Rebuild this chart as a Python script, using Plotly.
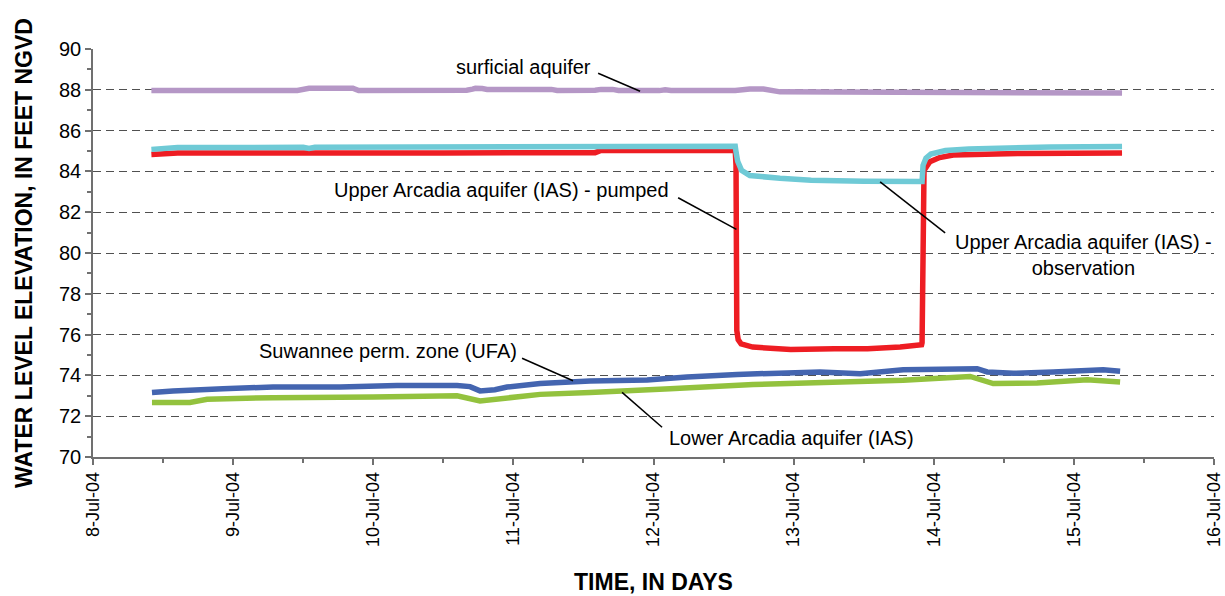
import plotly.graph_objects as go

# ---------------- data ----------------
surf_t = ["2004-07-08 10:00", "2004-07-09 11:00", "2004-07-09 13:00", "2004-07-09 17:00",
          "2004-07-09 20:30", "2004-07-09 21:30", "2004-07-10 01:30", "2004-07-10 02:30",
          "2004-07-10 13:00", "2004-07-10 14:00", "2004-07-10 16:00", "2004-07-10 17:00",
          "2004-07-10 17:30", "2004-07-10 18:40", "2004-07-10 19:30", "2004-07-11 06:30",
          "2004-07-11 07:30", "2004-07-11 14:00", "2004-07-11 15:00", "2004-07-11 17:00",
          "2004-07-11 18:00", "2004-07-12 01:00", "2004-07-12 02:00", "2004-07-12 03:00",
          "2004-07-12 14:00", "2004-07-12 16:30", "2004-07-12 18:50", "2004-07-12 21:40",
          "2004-07-13 06:00", "2004-07-13 14:00", "2004-07-13 20:00", "2004-07-14 02:00",
          "2004-07-14 10:00", "2004-07-14 18:00", "2004-07-15 00:00", "2004-07-15 04:00",
          "2004-07-15 08:15"]
surf_v = [87.97, 87.97, 88.07, 88.10, 88.08, 87.96, 87.96, 88.02, 88.02, 87.97, 87.98, 88.03,
          88.07, 88.06, 88.02, 88.02, 87.97, 87.98, 88.02, 88.02, 87.97, 87.96, 88.00, 87.97,
          87.97, 88.04, 88.04, 87.90, 87.89, 87.86, 87.88, 87.87, 87.88, 87.87, 87.86, 87.88,
          87.84]

obs_t = ["2004-07-08 10:00", "2004-07-08 13:00", "2004-07-08 14:30", "2004-07-09 12:00",
         "2004-07-09 13:00", "2004-07-09 14:00", "2004-07-10 12:00", "2004-07-11 12:00",
         "2004-07-11 14:30", "2004-07-12 00:00", "2004-07-12 14:00", "2004-07-12 14:10",
         "2004-07-12 14:25", "2004-07-12 15:05", "2004-07-12 16:30", "2004-07-12 21:40",
         "2004-07-13 03:00", "2004-07-13 12:00", "2004-07-13 18:00", "2004-07-13 22:00",
         "2004-07-13 22:10", "2004-07-13 22:40", "2004-07-13 23:30", "2004-07-14 02:00",
         "2004-07-14 06:00", "2004-07-14 12:00", "2004-07-14 20:00", "2004-07-15 08:15"]
obs_v = [85.08, 85.10, 85.17, 85.18, 85.12, 85.18, 85.18, 85.19, 85.24, 85.22, 85.23, 84.90,
         84.50, 84.05, 83.80, 83.66, 83.57, 83.52, 83.50, 83.50, 84.30, 84.65, 84.85, 85.02,
         85.10, 85.17, 85.20, 85.22]

pump_t = ["2004-07-08 10:00", "2004-07-08 14:00", "2004-07-08 14:30", "2004-07-10 12:00",
          "2004-07-11 14:00", "2004-07-11 15:00", "2004-07-12 14:00", "2004-07-12 14:08",
          "2004-07-12 14:12", "2004-07-12 14:16", "2004-07-12 14:30", "2004-07-12 15:00",
          "2004-07-12 17:00", "2004-07-12 23:30", "2004-07-13 07:00", "2004-07-13 12:40",
          "2004-07-13 18:15", "2004-07-13 21:20", "2004-07-13 21:55", "2004-07-13 22:00",
          "2004-07-13 22:05", "2004-07-13 22:20", "2004-07-13 23:20", "2004-07-14 01:00",
          "2004-07-14 03:20", "2004-07-14 15:00", "2004-07-15 08:15"]
pump_v = [84.83, 84.85, 84.90, 84.90, 84.92, 85.03, 85.04, 84.30, 79.50, 76.20, 75.75, 75.55,
          75.39, 75.27, 75.31, 75.31, 75.39, 75.47, 75.50, 75.60, 80.00, 84.05, 84.47, 84.68,
          84.80, 84.88, 84.90]

ufa_t = ["2004-07-08 10:06", "2004-07-08 13:42", "2004-07-08 22:16", "2004-07-09 06:50",
         "2004-07-09 18:19", "2004-07-10 04:04", "2004-07-10 14:21", "2004-07-10 16:35",
         "2004-07-10 18:17", "2004-07-10 20:50", "2004-07-10 22:55", "2004-07-11 04:35",
         "2004-07-11 13:08", "2004-07-11 22:54", "2004-07-12 05:45", "2004-07-12 14:19",
         "2004-07-13 04:32", "2004-07-13 11:24", "2004-07-13 18:46", "2004-07-14 03:19",
         "2004-07-14 07:26", "2004-07-14 09:09", "2004-07-14 13:36", "2004-07-14 20:27",
         "2004-07-15 05:01", "2004-07-15 07:55"]
ufa_v = [73.16, 73.24, 73.35, 73.43, 73.43, 73.51, 73.51, 73.45, 73.24, 73.30, 73.43, 73.60,
         73.72, 73.78, 73.92, 74.05, 74.17, 74.08, 74.28, 74.33, 74.33, 74.17, 74.10, 74.17,
         74.28, 74.20]

lower_t = ["2004-07-08 10:06", "2004-07-08 16:36", "2004-07-08 19:32", "2004-07-09 06:50",
           "2004-07-09 23:58", "2004-07-10 14:21", "2004-07-10 18:17", "2004-07-10 22:55",
           "2004-07-11 04:35", "2004-07-11 13:08", "2004-07-11 21:42", "2004-07-12 02:50",
           "2004-07-12 17:04", "2004-07-13 07:26", "2004-07-13 18:46", "2004-07-14 06:14",
           "2004-07-14 10:11", "2004-07-14 17:42", "2004-07-15 02:17", "2004-07-15 07:55"]
lower_v = [72.67, 72.67, 72.83, 72.91, 72.94, 73.00, 72.75, 72.91, 73.07, 73.16, 73.24, 73.35,
           73.55, 73.63, 73.76, 73.95, 73.60, 73.63, 73.79, 73.68]

# label text, text anchor (time, value) and leader line (time, value) -> (time, value)
labels = ["surficial aquifer",
          "Upper Arcadia aquifer (IAS) - pumped",
          "Upper Arcadia aquifer (IAS) -<br>observation",
          "Suwannee perm. zone (UFA)",
          "Lower Arcadia aquifer (IAS)"]
label_t = ["2004-07-11 01:39", "2004-07-10 21:53", "2004-07-15 01:35", "2004-07-10 02:32",
           "2004-07-12 23:34"]
label_v = [89.10, 83.07, 79.89, 75.18, 70.92]
lead_t0 = ["2004-07-11 14:31", "2004-07-12 04:13", "2004-07-13 14:49", "2004-07-11 01:29",
           "2004-07-12 01:28"]
lead_v0 = [88.81, 82.71, 83.49, 74.84, 71.46]
lead_t1 = ["2004-07-11 21:42", "2004-07-12 14:12", "2004-07-14 01:57", "2004-07-11 10:13",
           "2004-07-11 18:37"]
lead_v1 = [87.93, 81.16, 80.99, 73.74, 73.17]

FONT = "Arial, Liberation Sans, sans-serif"

fig = go.Figure()
series = [
    (pump_t, pump_v, "#EE1D23", "Upper Arcadia aquifer (IAS) - pumped"),
    (obs_t, obs_v, "#6FCAD6", "Upper Arcadia aquifer (IAS) - observation"),
    (surf_t, surf_v, "#B597C6", "surficial aquifer"),
    (lower_t, lower_v, "#93C23E", "Lower Arcadia aquifer (IAS)"),
    (ufa_t, ufa_v, "#4465B0", "Suwannee perm. zone (UFA)"),
]
for t, v, c, n in series:
    fig.add_trace(go.Scatter(x=t, y=v, mode="lines", name=n,
                             line=dict(color=c, width=5.5), showlegend=False))

for i in range(len(labels)):
    fig.add_shape(type="line", xref="x", yref="y",
                  x0=lead_t0[i], y0=lead_v0[i], x1=lead_t1[i], y1=lead_v1[i],
                  line=dict(color="black", width=1.5))
    fig.add_annotation(x=label_t[i], y=label_v[i], xref="x", yref="y", text=labels[i],
                       showarrow=False, font=dict(family=FONT, size=20, color="black"),
                       align="center")

fig.update_layout(
    width=1225, height=596,
    margin=dict(l=93, r=11, t=49, b=139, autoexpand=False),
    paper_bgcolor="white", plot_bgcolor="white",
    font=dict(family=FONT, color="black"),
    showlegend=False,
)
fig.update_xaxes(
    type="date", range=["2004-07-08", "2004-07-16"], automargin=False,
    dtick=86400000, tick0="2004-07-08", tickformat="%-d-%b-%y", tickangle=-90,
    ticks="outside", ticklen=6, tickcolor="#707070", tickwidth=1.5,
    tickfont=dict(family=FONT, size=18, color="black"),
    minor=dict(dtick=43200000, ticks="outside", ticklen=4, tickcolor="#707070", showgrid=False),
    showline=True, linecolor="#707070", linewidth=1.5, showgrid=False, zeroline=False,
    title=dict(text="<b>TIME, IN DAYS</b>", font=dict(family=FONT, size=23, color="black"),
               standoff=28),
)
fig.update_yaxes(
    range=[70, 90], dtick=2, tick0=70, automargin=False,
    ticks="outside", ticklen=6, tickcolor="#707070", tickwidth=1.5,
    tickfont=dict(family=FONT, size=20, color="black"),
    minor=dict(dtick=1, ticks="outside", ticklen=4, tickcolor="#707070", showgrid=False),
    showline=True, linecolor="#707070", linewidth=1.5,
    showgrid=True, gridcolor="#505050", gridwidth=1, griddash="8px,5px", zeroline=False,
    title=dict(text="<b>WATER LEVEL ELEVATION, IN FEET NGVD</b>",
               font=dict(family=FONT, size=23, color="black"), standoff=20),
)

fig.write_html("out.html")
